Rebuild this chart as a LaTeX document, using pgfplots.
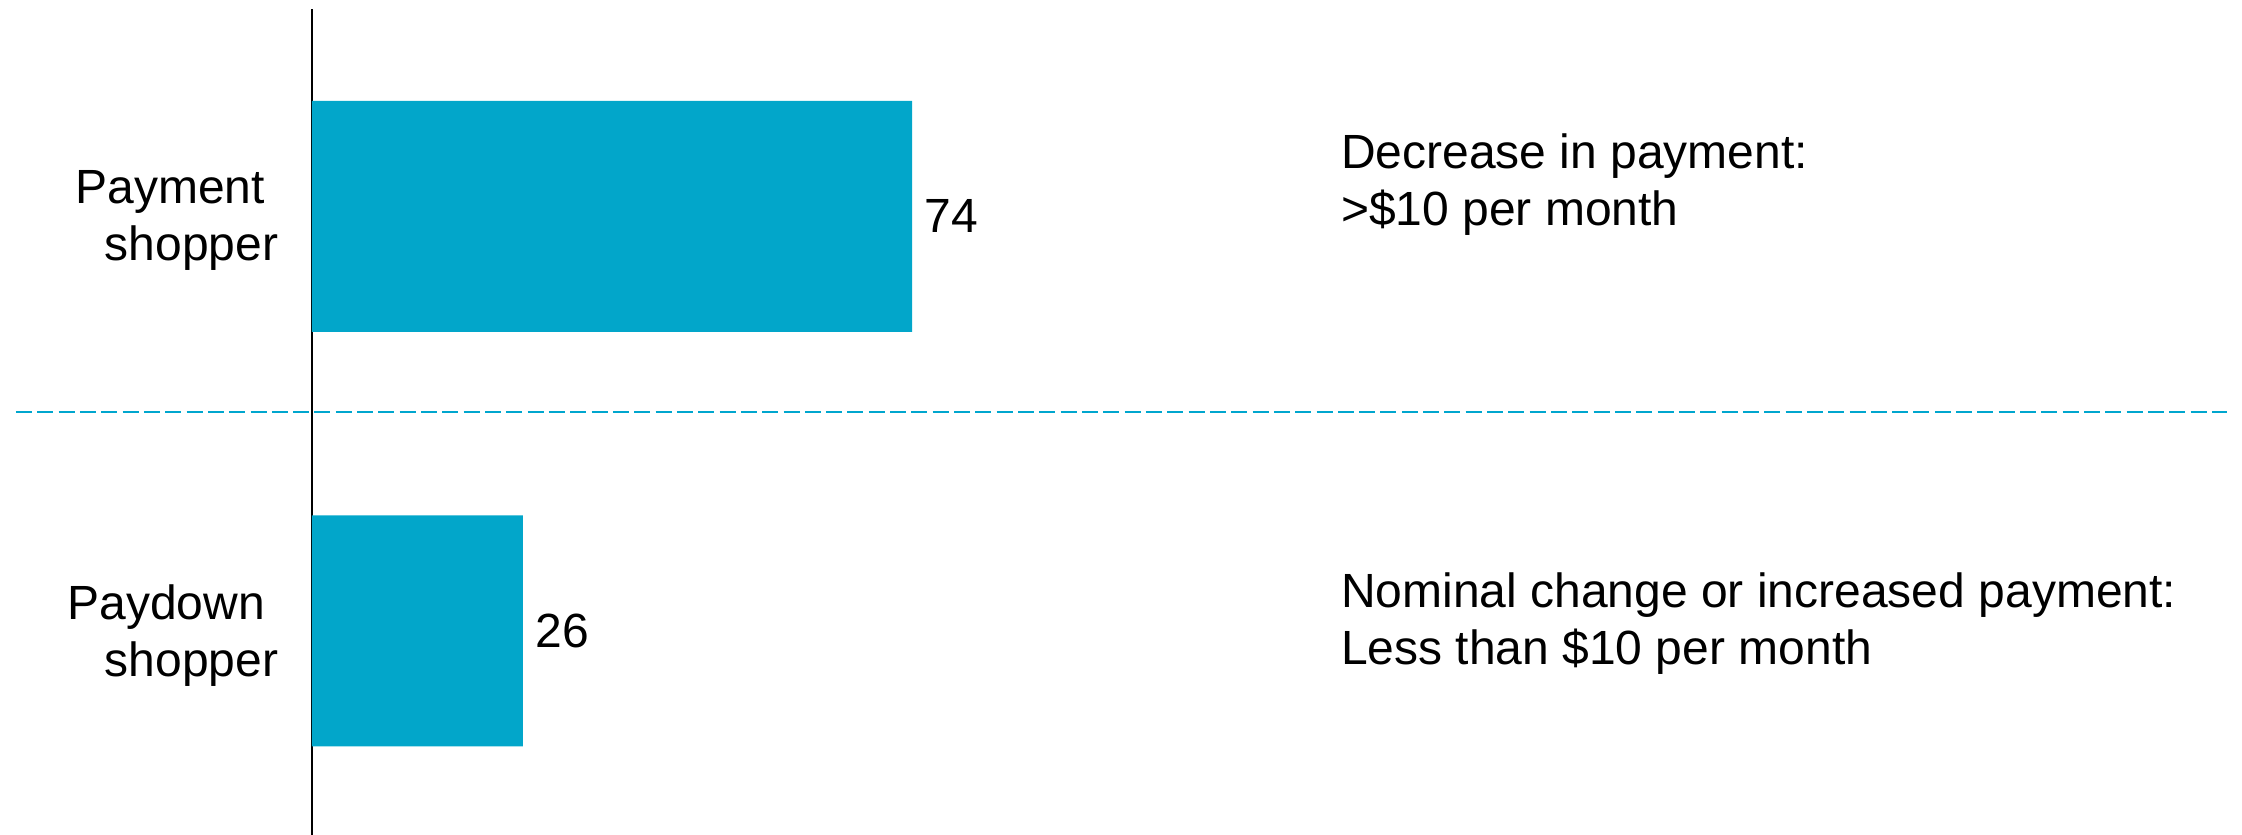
\documentclass[border=0pt]{standalone}
\usepackage{pgfplots}
\pgfplotsset{compat=1.18}
\usepackage{fontspec}
\setmainfont{Liberation Sans}
\definecolor{barblue}{RGB}{2,166,202}
\definecolor{dashblue}{RGB}{0,166,206}
\begin{document}
\begin{tikzpicture}
\begin{axis}[
  at={(78pt,-0.75pt)}, anchor=south west,
  scale only axis, width=478.75pt, height=207.25pt,
  xbar, bar width=57.75pt,
  xmin=0, xmax=236.13, ymin=-0.5, ymax=1.5, y dir=reverse,
  enlargelimits=false,
  axis x line=none, axis y line*=left,
  y axis line style={black, line width=0.45pt},
  xtick=\empty,
  ytick={0,1},
  yticklabels={{Payment\kern.278em\\shopper},{Paydown\kern.278em\\shopper}},
  major tick length=0pt,
  ytick style={draw=none},
  yticklabel style={align=right, font=\fontsize{12}{14.25}\selectfont, inner sep=0pt, anchor=east, xshift=-8.25pt, yshift=-1.1pt},
  /pgf/number format/assume math mode=true,
  clip=false,
]
\addplot[fill=barblue, draw=none,
  nodes near coords,
  every node near coord/.append style={anchor=west, inner sep=0pt, xshift=3pt, font=\fontsize{12}{14.25}\selectfont, text=black}]
  coordinates {(74,0) (26,1)};
\draw[dashblue, line width=0.6pt, dash pattern=on 4pt off 1.33pt]
  (axis cs:-36.5,0.4717) -- (axis cs:236.13,0.4717);
\begin{scope}[every node/.style={anchor=base west, inner sep=0pt, font=\fontsize{12}{14.25}\selectfont}]
\node at (axis cs:126.8,-0.1146) {Decrease in payment:};
\node at (axis cs:126.8,0.0229) {>\$10 per month};
\node at (axis cs:126.8,0.9445) {Nominal change or increased payment:};
\node at (axis cs:126.8,1.082) {Less than \$10 per month};
\end{scope}
\end{axis}
\pgfresetboundingbox
\useasboundingbox (0,0) rectangle (560.5pt,208.75pt);
\end{tikzpicture}
\end{document}
